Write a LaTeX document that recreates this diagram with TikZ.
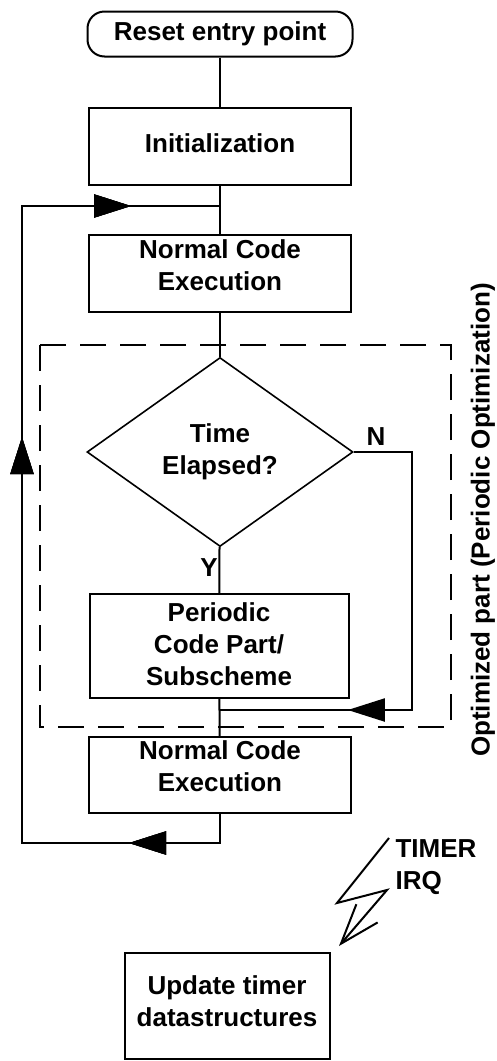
\documentclass[tikz,border=0pt]{standalone}
\usepackage{fontspec}
\setmainfont{Liberation Sans}
\usetikzlibrary{shapes.geometric, arrows.meta, positioning, decorations.markings}

\begin{document}
\begin{tikzpicture}[
    x=1pt, y=-1pt,
    every node/.style={font=\fontsize{26}{32}\selectfont\bfseries},
    box/.style={rectangle, draw, line width=2pt, minimum width=262pt, align=center, inner sep=0pt},
    lift/.style={execute at end node={\rule[-#1]{0pt}{0pt}}},
    terminal/.style={rectangle, draw, line width=2pt, rounded corners=17pt, minimum width=265pt, minimum height=45pt, inner sep=0pt},
    decision/.style={diamond, draw, line width=1.6pt, minimum width=266pt, minimum height=189pt, inner sep=0pt, align=center},
    line/.style={line width=2pt},
    midarrow/.style={line width=2pt, postaction={decorate}, decoration={markings,
        mark=at position #1 with {\arrow{Triangle[length=37pt,width=23pt]}}}},
    optframe/.style={line width=2pt, dash pattern=on 26pt off 14pt}
]
    \useasboundingbox (0,0) rectangle (496,1061);

    \node [terminal] (reset) at (220,34) {Reset entry point};
    \node [box, minimum height=77pt, lift=6pt] (init) at (220,146) {Initialization};
    \node [box, minimum height=77pt, lift=16pt] (normal1) at (220,273) {Normal Code\\Execution};
    \node [decision] (elapsed) at (220,452) {Time\\Elapsed?};
    \node [box, minimum width=259pt, minimum height=104pt, lift=4pt] (periodic) at (219,646) {Periodic\\Code Part/\\Subscheme};
    \node [box, minimum height=76pt, lift=18pt] (normal2) at (220,775) {Normal Code\\Execution};
    \node [box, minimum width=205pt, minimum height=106pt, lift=9pt] (update) at (227,1006) {Update timer\\datastructures};

    \node (yes) at (209,568) {Y};
    \node (no) at (376,437) {N};
    \node [anchor=west, align=left] (irq) at (392,867) {TIMER\\IRQ};
    \node [rotate=90] (optlabel) at (483,520) {Optimized part (Periodic Optimization)};

    % optimized part
    \draw [optframe] (40,345) rectangle (451,727);

    \coordinate (loopjoin) at (220,206);
    \coordinate (loopleft) at (22,843);
    \coordinate (nmerge) at (220,710);

    \draw [line] (reset) -- (init);
    \draw [line] (init) -- (normal1);
    \draw [line] (normal1) -- (elapsed);
    \draw [line] (elapsed) -- (periodic);
    \draw [line] (periodic) -- (normal2);
    \draw [midarrow=380pt] (elapsed.east) -- ++(58,0) |- (nmerge);
    \draw [midarrow=120pt, midarrow=633pt, midarrow=973pt] (normal2.south) |- (loopleft) |- (loopjoin);

    % timer interrupt
    \draw [line, -{Straight Barb[length=40pt,width=28pt]}] (389,838) -- (337,903) -- (387,890) -- (339,946);
\end{tikzpicture}
\end{document}
